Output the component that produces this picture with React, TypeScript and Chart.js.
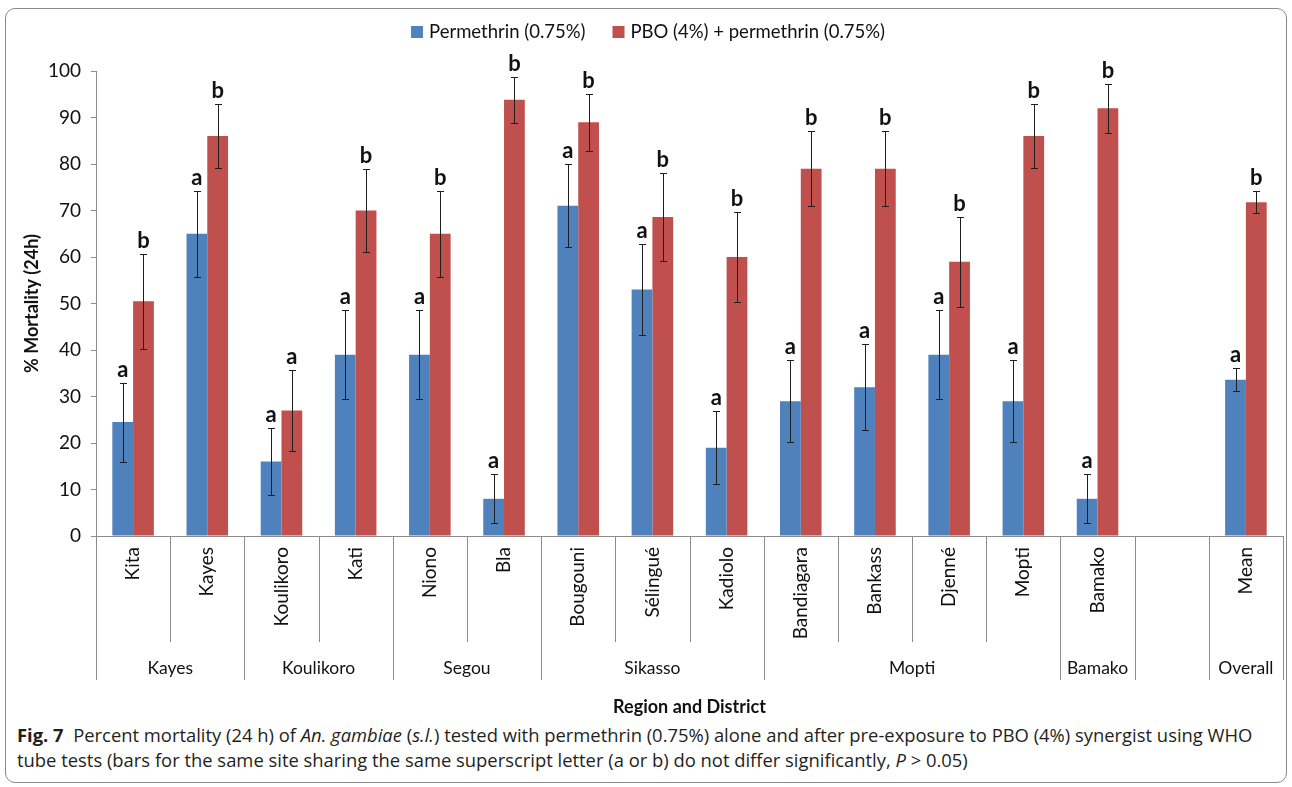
import React, { useEffect, useRef } from "react";
import { Chart, registerables } from "chart.js";

Chart.register(...registerables);

// Districts (one bar pair each), grouped by region on a second axis row
const districts = [
  "Kita", "Kayes", "Koulikoro", "Kati", "Niono", "Bla", "Bougouni", "Sélingué",
  "Kadiolo", "Bandiagara", "Bankass", "Djenné", "Mopti", "Bamako", "", "Mean",
];
const regionNames = ["Kayes", "Koulikoro", "Segou", "Sikasso", "Mopti", "Bamako", "", "Overall"];
const regionSizes = [2, 2, 2, 3, 4, 1, 1, 1];

const seriesNames = ["Permethrin (0.75%)", "PBO (4%) + permethrin (0.75%)"];

// % mortality (24 h) and 95% CI half-widths
const permethrin = [24.5, 65, 16, 39, 39, 8, 71, 53, 19, 29, 32, 39, 29, 8, null, 33.6];
const permethrinErr = [8.5, 9.3, 7.2, 9.6, 9.6, 5.3, 8.9, 9.8, 7.8, 8.8, 9.2, 9.6, 8.8, 5.3, null, 2.5];
const pboPermethrin = [50.5, 86, 27, 70, 65, 93.8, 89, 68.6, 60, 79, 79, 59, 86, 92, null, 71.8];
const pboPermethrinErr = [10.2, 6.8, 8.7, 9, 9.3, 4.9, 6.1, 9.5, 9.6, 8, 8, 9.7, 6.8, 5.3, null, 2.3];

// Significance letters shown above each bar
const permethrinLetters = ["a", "a", "a", "a", "a", "a", "a", "a", "a", "a", "a", "a", "a", "a", "", "a"];
const pboLetters = ["b", "b", "a", "b", "b", "b", "b", "b", "b", "b", "b", "b", "b", "b", "", "b"];

const BLUE = "#4F81BD";
const RED = "#C0504D";
const AXIS_GREY = "#8c8c8c";
const TEXT = "#111111";
const FONT = "Lato, 'Open Sans', sans-serif";

const errorBarsPlugin = {
  id: "errorBars",
  afterDatasetsDraw(chart: any) {
    const { ctx } = chart;
    const yScale = chart.scales.y;
    const errs = [permethrinErr, pboPermethrinErr];
    const letters = [permethrinLetters, pboLetters];
    ctx.save();
    chart.data.datasets.forEach((ds: any, d: number) => {
      const meta = chart.getDatasetMeta(d);
      meta.data.forEach((bar: any, i: number) => {
        const v = ds.data[i];
        const e = errs[d][i];
        if (v == null || e == null) return;
        const top = Math.round(yScale.getPixelForValue(v + e)) + 0.5;
        const bot = Math.round(yScale.getPixelForValue(v - e)) + 0.5;
        const x = Math.round(bar.x) + 0.5;
        ctx.strokeStyle = "#1e1e1e";
        ctx.lineWidth = 1;
        ctx.beginPath();
        ctx.moveTo(x, top);
        ctx.lineTo(x, bot);
        ctx.moveTo(x - 3.5, top);
        ctx.lineTo(x + 3.5, top);
        ctx.moveTo(x - 3.5, bot);
        ctx.lineTo(x + 3.5, bot);
        ctx.stroke();
        ctx.fillStyle = TEXT;
        ctx.font = `bold 22px ${FONT}`;
        ctx.textAlign = "center";
        ctx.textBaseline = "alphabetic";
        ctx.fillText(letters[d][i], bar.x, top - 7);
      });
    });
    ctx.restore();
  },
};

const categoryAxisPlugin = {
  id: "categoryAxis",
  afterDraw(chart: any) {
    const { ctx, chartArea } = chart;
    const xScale = chart.scales.x;
    const step = xScale.getPixelForValue(1) - xScale.getPixelForValue(0);
    const base = chartArea.bottom;

    const groupEdges = new Set<number>([0]);
    let acc = 0;
    regionSizes.forEach((s) => {
      acc += s;
      groupEdges.add(acc);
    });

    ctx.save();
    ctx.strokeStyle = AXIS_GREY;
    ctx.lineWidth = 1;
    for (let k = 0; k <= districts.length; k++) {
      const px = Math.round(xScale.getPixelForValue(k) - step / 2) + 0.5;
      const len = groupEdges.has(k) ? 144 : 106;
      ctx.beginPath();
      ctx.moveTo(px, base);
      ctx.lineTo(px, base + len);
      ctx.stroke();
    }

    ctx.fillStyle = TEXT;
    ctx.font = `19px ${FONT}`;
    districts.forEach((name, i) => {
      ctx.save();
      ctx.translate(xScale.getPixelForValue(i), base + 11);
      ctx.rotate(-Math.PI / 2);
      ctx.textAlign = "right";
      ctx.textBaseline = "middle";
      ctx.fillText(name, 0, 0);
      ctx.restore();
    });

    ctx.font = `17.5px ${FONT}`;
    ctx.textAlign = "center";
    ctx.textBaseline = "middle";
    let start = 0;
    regionNames.forEach((name, g) => {
      const end = start + regionSizes[g];
      const cx = (xScale.getPixelForValue(start) + xScale.getPixelForValue(end - 1)) / 2;
      ctx.fillText(name, cx, base + 132);
      start = end;
    });

    // legend
    const colors = [BLUE, RED];
    ctx.font = `18.5px ${FONT}`;
    const box = 12;
    const gap = 6;
    const spacing = 27;
    const widths = seriesNames.map((s) => ctx.measureText(s).width);
    const total = widths.reduce((a, w) => a + box + gap + w, 0) + spacing;
    let lx = chart.width / 2 + 2 - total / 2;
    const ly = 23;
    ctx.textAlign = "left";
    seriesNames.forEach((s, k) => {
      ctx.fillStyle = colors[k];
      ctx.fillRect(lx, ly - box / 2, box, box);
      ctx.fillStyle = TEXT;
      ctx.fillText(s, lx + box + gap, ly);
      lx += box + gap + widths[k] + spacing;
    });
    ctx.restore();
  },
};

export default function App() {
  const canvasRef = useRef<HTMLCanvasElement>(null);

  useEffect(() => {
    if (!canvasRef.current) return;
    const chart = new Chart(canvasRef.current, {
      type: "bar",
      data: {
        labels: districts,
        datasets: [
          {
            label: seriesNames[0],
            data: permethrin,
            backgroundColor: BLUE,
            borderWidth: 0,
            barPercentage: 1,
            categoryPercentage: 0.56,
          },
          {
            label: seriesNames[1],
            data: pboPermethrin,
            backgroundColor: RED,
            borderWidth: 0,
            barPercentage: 1,
            categoryPercentage: 0.56,
          },
        ],
      },
      options: {
        responsive: false,
        animation: false,
        devicePixelRatio: 1,
        layout: { padding: { top: 62, right: 3, left: 0, bottom: 0 } },
        plugins: {
          legend: { display: false },
          tooltip: { enabled: false },
        },
        scales: {
          x: {
            grid: { display: false },
            border: { display: true, color: AXIS_GREY },
            ticks: { display: false },
            title: {
              display: true,
              text: "Region and District",
              color: TEXT,
              font: { family: FONT, size: 18, weight: "bold" },
              padding: { top: 0, bottom: 3 },
            },
            afterFit: (s: any) => {
              s.height = 185;
            },
          },
          y: {
            min: 0,
            max: 100,
            ticks: {
              stepSize: 10,
              color: TEXT,
              padding: 10,
              font: { family: FONT, size: 19 },
            },
            grid: { drawOnChartArea: false, drawTicks: true, tickLength: 5, color: AXIS_GREY },
            border: { display: true, color: AXIS_GREY },
            title: {
              display: true,
              text: "% Mortality (24h)",
              color: TEXT,
              font: { family: FONT, size: 18, weight: "bold" },
              padding: { top: 15, bottom: 0 },
            },
            afterFit: (s: any) => {
              s.width = 90;
            },
          },
        },
      },
      plugins: [errorBarsPlugin, categoryAxisPlugin],
    });
    return () => chart.destroy();
  }, []);

  return (
    <div style={{ position: "fixed", left: 0, top: 0, width: 1292, height: 787, background: "#fff" }}>
      <div
        style={{
          position: "absolute",
          left: 5,
          top: 8,
          width: 1282,
          height: 775,
          boxSizing: "border-box",
          border: "1px solid #8a8a8a",
          borderRadius: 10,
        }}
      >
        <canvas
          ref={canvasRef}
          width={1280}
          height={712}
          style={{ position: "absolute", left: 0, top: 0, width: 1280, height: 712 }}
        />
        <div
          style={{
            position: "absolute",
            left: 11,
            top: 713,
            width: 1262,
            fontFamily: "'Open Sans', sans-serif",
            fontSize: 18.4,
            lineHeight: "25px",
            color: "#231f20",
            whiteSpace: "nowrap",
          }}
        >
          <b>Fig. 7</b>&nbsp;&nbsp;Percent mortality (24 h) of <i>An. gambiae</i> (<i>s.l.</i>) tested with
          permethrin (0.75%) alone and after pre-exposure to PBO (4%) synergist using WHO
          <br />
          tube tests (bars for the same site sharing the same superscript letter (a or b) do not differ
          significantly, <i>P</i> &gt; 0.05)
        </div>
      </div>
    </div>
  );
}
